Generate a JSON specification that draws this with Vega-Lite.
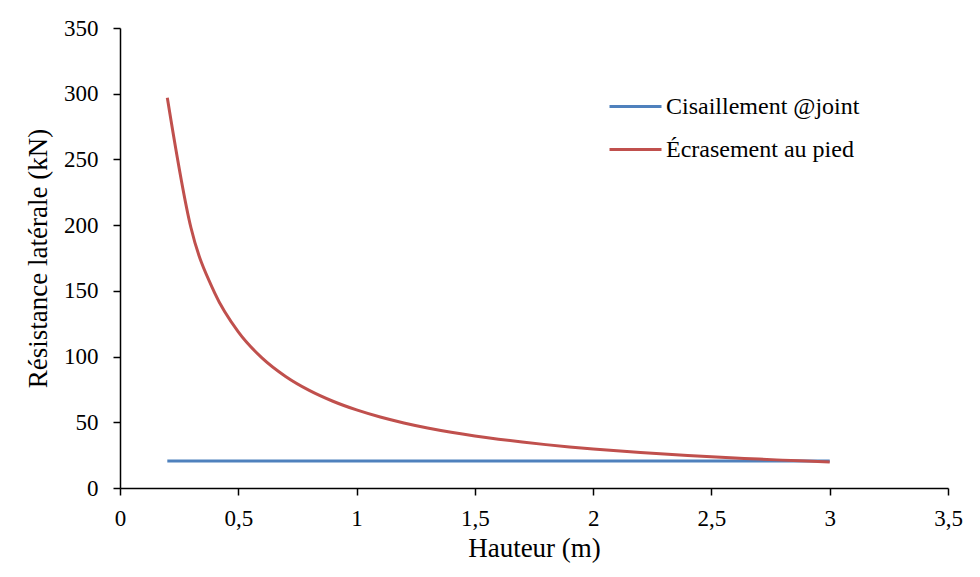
{
  "$schema": "https://vega.github.io/schema/vega-lite/v6.json",
  "width": 828,
  "height": 460,
  "autosize": {"type": "none"},
  "padding": {"left": 120, "top": 28, "right": 32, "bottom": 89},
  "background": "white",
  "config": {
    "locale": {"number": {"decimal": ",", "thousands": " ", "grouping": [3], "currency": ["", " €"]}},
    "font": "Liberation Serif",
    "view": {"stroke": null},
    "axis": {
      "grid": false,
      "domainColor": "black",
      "domainWidth": 1.5,
      "tickColor": "black",
      "tickWidth": 1.5,
      "tickSize": 7,
      "labelFont": "Liberation Serif",
      "labelFontSize": 23,
      "labelColor": "black",
      "titleFont": "Liberation Serif",
      "titleFontSize": 27,
      "titleFontWeight": "normal",
      "titleColor": "black"
    }
  },
  "data": {
    "values": [
      {"h": 0.2, "r": 20.5, "serie": "Cisaillement @joint"},
      {"h": 0.5, "r": 20.5, "serie": "Cisaillement @joint"},
      {"h": 1.0, "r": 20.5, "serie": "Cisaillement @joint"},
      {"h": 1.5, "r": 20.5, "serie": "Cisaillement @joint"},
      {"h": 2.0, "r": 20.5, "serie": "Cisaillement @joint"},
      {"h": 2.5, "r": 20.5, "serie": "Cisaillement @joint"},
      {"h": 3.0, "r": 20.5, "serie": "Cisaillement @joint"},
      {"h": 0.2, "r": 297, "serie": "Écrasement au pied"},
      {"h": 0.3, "r": 198, "serie": "Écrasement au pied"},
      {"h": 0.4, "r": 148.5, "serie": "Écrasement au pied"},
      {"h": 0.5, "r": 118.8, "serie": "Écrasement au pied"},
      {"h": 0.6, "r": 99, "serie": "Écrasement au pied"},
      {"h": 0.7, "r": 84.86, "serie": "Écrasement au pied"},
      {"h": 0.8, "r": 74.25, "serie": "Écrasement au pied"},
      {"h": 0.9, "r": 66, "serie": "Écrasement au pied"},
      {"h": 1.0, "r": 59.4, "serie": "Écrasement au pied"},
      {"h": 1.1, "r": 54, "serie": "Écrasement au pied"},
      {"h": 1.2, "r": 49.5, "serie": "Écrasement au pied"},
      {"h": 1.3, "r": 45.69, "serie": "Écrasement au pied"},
      {"h": 1.4, "r": 42.43, "serie": "Écrasement au pied"},
      {"h": 1.5, "r": 39.6, "serie": "Écrasement au pied"},
      {"h": 1.6, "r": 37.13, "serie": "Écrasement au pied"},
      {"h": 1.7, "r": 34.94, "serie": "Écrasement au pied"},
      {"h": 1.8, "r": 33, "serie": "Écrasement au pied"},
      {"h": 1.9, "r": 31.26, "serie": "Écrasement au pied"},
      {"h": 2.0, "r": 29.7, "serie": "Écrasement au pied"},
      {"h": 2.1, "r": 28.29, "serie": "Écrasement au pied"},
      {"h": 2.2, "r": 27, "serie": "Écrasement au pied"},
      {"h": 2.3, "r": 25.83, "serie": "Écrasement au pied"},
      {"h": 2.4, "r": 24.75, "serie": "Écrasement au pied"},
      {"h": 2.5, "r": 23.76, "serie": "Écrasement au pied"},
      {"h": 2.6, "r": 22.85, "serie": "Écrasement au pied"},
      {"h": 2.7, "r": 22, "serie": "Écrasement au pied"},
      {"h": 2.8, "r": 21.21, "serie": "Écrasement au pied"},
      {"h": 2.9, "r": 20.48, "serie": "Écrasement au pied"},
      {"h": 3.0, "r": 19.8, "serie": "Écrasement au pied"}
    ]
  },
  "mark": {"type": "line", "strokeWidth": 3, "interpolate": "monotone"},
  "encoding": {
    "x": {
      "field": "h", "type": "quantitative",
      "scale": {"domain": [0, 3.5], "nice": false, "zero": true},
      "axis": {"values": [0, 0.5, 1, 1.5, 2, 2.5, 3, 3.5], "format": "~r", "title": "Hauteur (m)", "labelPadding": 12, "titlePadding": 5, "labelFlush": false}
    },
    "y": {
      "field": "r", "type": "quantitative",
      "scale": {"domain": [0, 350], "nice": false},
      "axis": {"values": [0, 50, 100, 150, 200, 250, 300, 350], "format": "~r", "title": "Résistance latérale (kN)", "labelPadding": 15, "titlePadding": 11, "labelFlush": false}
    },
    "color": {
      "field": "serie", "type": "nominal",
      "scale": {"domain": ["Cisaillement @joint", "Écrasement au pied"], "range": ["#4F81BD", "#C0504D"]},
      "legend": {
        "title": null,
        "orient": "none",
        "legendX": 488,
        "legendY": 51,
        "symbolType": "stroke",
        "symbolSize": 2704,
        "symbolStrokeWidth": 3,
        "labelFont": "Liberation Serif",
        "labelFontSize": 24,
        "labelColor": "black",
        "labelOffset": 3,
        "labelLimit": 0,
        "rowPadding": 3
      }
    }
  }
}
